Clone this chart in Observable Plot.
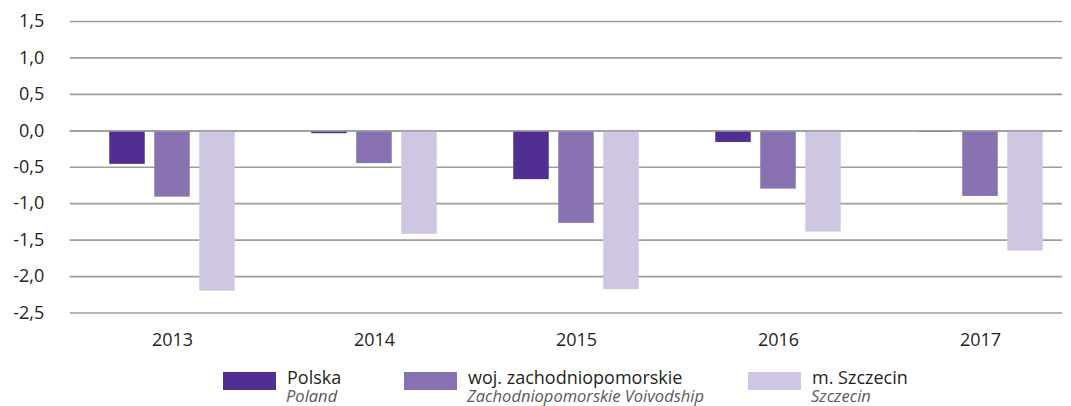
<!DOCTYPE html>
<html>
<head>
<meta charset="utf-8">
<script src="https://cdn.jsdelivr.net/npm/d3@7"></script>
<script src="https://cdn.jsdelivr.net/npm/@observablehq/plot@0.6"></script>
<style>
  html, body { margin: 0; padding: 0; background: #fff; }
  body { width: 1071px; height: 406px; overflow: hidden; font-family: "Open Sans", sans-serif; color: #231f20; }
  #chart svg { display: block; }
  #legend { position: relative; height: 46px; width: 1071px; overflow: hidden; }
  .sw { position: absolute; top: 12px; width: 53px; height: 18px; }
  .lbl { position: absolute; top: 8px; white-space: nowrap; font-size: 18px; line-height: 18px; height: 18px; color: #231f20; }
  .en { position: absolute; top: 27px; white-space: nowrap; font-size: 16.5px; line-height: 17px; height: 17px; font-style: italic; color: #58595b; }
</style>
</head>
<body>
<div id="chart"></div>
<div id="legend"></div>
<script>
// ---- data ----
const years = ["2013", "2014", "2015", "2016", "2017"];
const polska = [-0.46, -0.04, -0.67, -0.16, -0.02];
const woj = [-0.91, -0.45, -1.27, -0.80, -0.90];
const szczecin = [-2.20, -1.42, -2.18, -1.39, -1.65];
const seriesNames = ["Polska", "woj. zachodniopomorskie", "m. Szczecin"];
const seriesNamesEn = ["Poland", "Zachodniopomorskie Voivodship", "Szczecin"];
const seriesColors = ["#512e91", "#8771b0", "#cfc7e2"];
const yTicks = [1.5, 1.0, 0.5, 0.0, -0.5, -1.0, -1.5, -2.0, -2.5];
const yTickLabels = ["1,5", "1,0", "0,5", "0,0", "-0,5", "-1,0", "-1,5", "-2,0", "-2,5"];

const seriesValues = [polska, woj, szczecin];
const table = years.flatMap((year, i) =>
  seriesValues.map((vals, s) => ({ year, series: seriesNames[s], s, value: vals[i] }))
);

const W = 1071, H = 360;
const left = 69.75, step = 202.5;
const barW = 36, barStep = 45;
const inset = (step - barW) / 2;

const plot = Plot.plot({
  width: W,
  height: H,
  marginLeft: left,
  marginRight: 9,
  marginTop: 21,
  marginBottom: H - 312.5,
  style: { fontFamily: "Open Sans, sans-serif", fontSize: "18px", color: "#231f20", background: "#fff" },
  x: { type: "band", domain: years, range: [left, left + step * years.length], padding: 0, label: null },
  y: { domain: [-2.5, 1.5], label: null },
  marks: [
    Plot.gridY(yTicks, { stroke: "#9e9e9e", strokeOpacity: 1, strokeWidth: 1.7 }),
    ...seriesNames.map((name, s) =>
      Plot.barY(table.filter(d => d.s === s), {
        x: "year",
        y: "value",
        fill: seriesColors[s],
        insetLeft: inset,
        insetRight: inset,
        dx: (s - 1) * barStep
      })
    ),
    Plot.ruleY([0], { stroke: "#9e9e9e", strokeWidth: 1.7 }),
    Plot.axisY(yTicks, {
      tickSize: 0, tickPadding: 26,
      tickFormat: d => yTickLabels[yTicks.indexOf(d)],
      fontSize: 18, fill: "#231f20", label: null
    }),
    Plot.axisX({ tickSize: 0, tickPadding: 20, fontSize: 18, fill: "#231f20", label: null })
  ]
});
document.getElementById("chart").appendChild(plot);

const legendLefts = [223, 404, 748];
const legend = document.getElementById("legend");
seriesNames.forEach((name, s) => {
  const x = legendLefts[s];
  const sw = document.createElement("div");
  sw.className = "sw";
  sw.style.left = x + "px";
  sw.style.background = seriesColors[s];
  legend.appendChild(sw);
  const lbl = document.createElement("div");
  lbl.className = "lbl";
  lbl.style.left = (x + 64) + "px";
  lbl.textContent = name;
  legend.appendChild(lbl);
  const en = document.createElement("div");
  en.className = "en";
  en.style.left = (x + 63) + "px";
  en.textContent = seriesNamesEn[s];
  legend.appendChild(en);
});
</script>
</body>
</html>
